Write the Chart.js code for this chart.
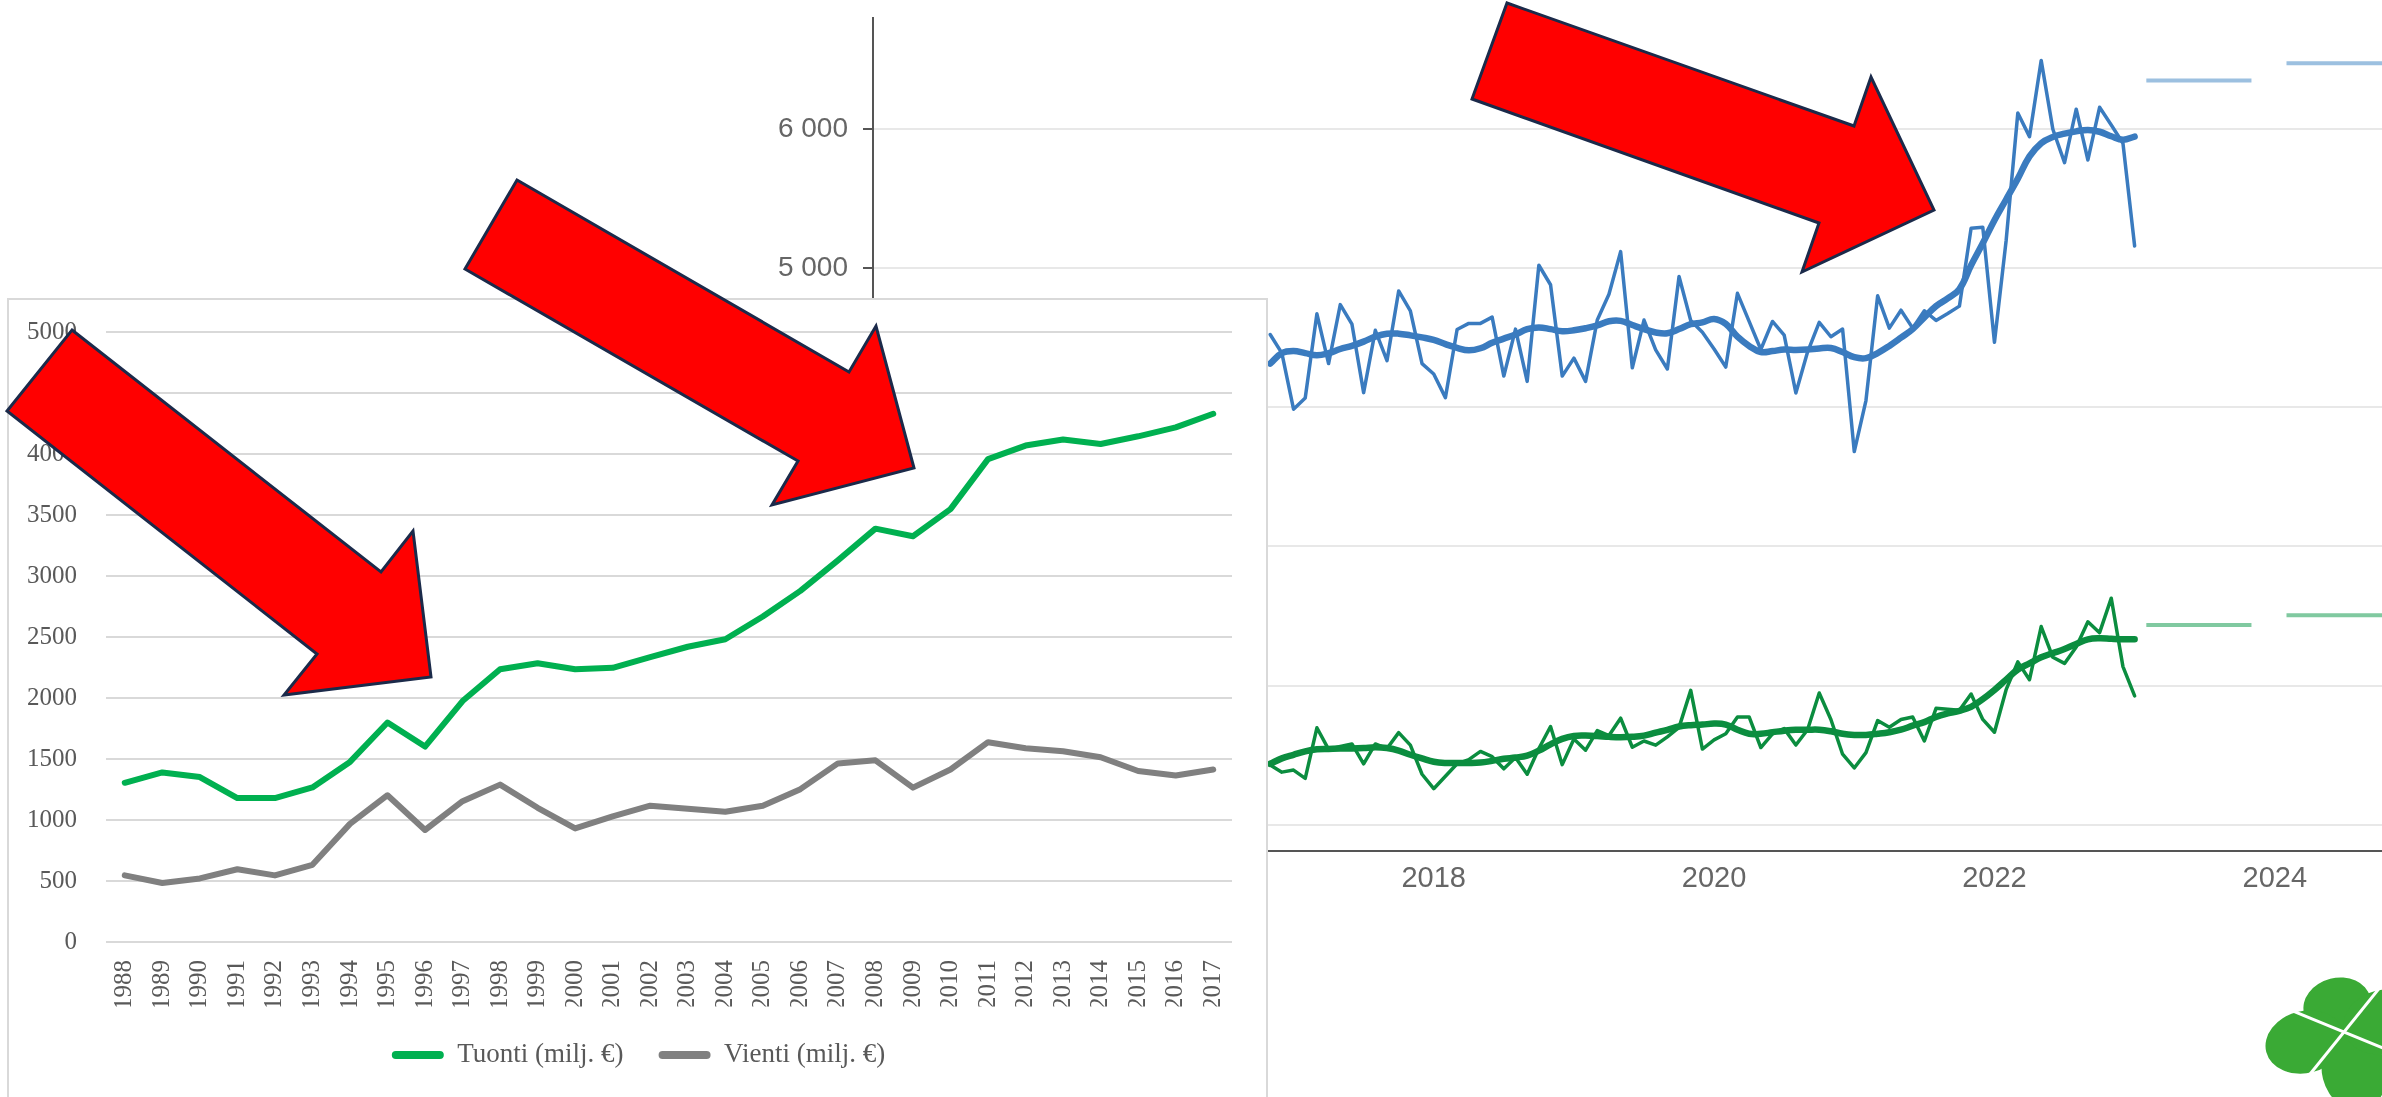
<!DOCTYPE html>
<html>
<head>
<meta charset="UTF-8">
<title>Tuonti ja vienti</title>
<script src="https://cdn.jsdelivr.net/npm/chart.js"></script>
<style>
  html, body { margin: 0; padding: 0; background: #fff; }
  body { position: relative; width: 2382px; height: 1097px; overflow: hidden; }
  #bgChart { position: absolute; left: 0; top: 0; }
  #box { position: absolute; left: 7px; top: 298px; width: 1257px; height: 830px;
         border: 2px solid #d9d9d9; background: #fff; }
  #fgChart { position: absolute; left: 0; top: 0; }
  svg.overlay { position: absolute; left: 0; top: 0; }
</style>
</head>
<body>
<canvas id="bgChart" width="2430" height="1097"></canvas>
<div id="box"><canvas id="fgChart" width="1257" height="797"></canvas></div>

<svg class="overlay" width="2382" height="1097">
  <g fill="#ff0000" stroke="#1b2a4a" stroke-width="3" stroke-linejoin="miter">
    <polygon points="72,330 381,572 413,531 431,677 284,695 317,654 7,411"/>
    <polygon points="517,180 849,372 876,326 914,468 772,505 798,461 465,269"/>
    <polygon points="1507,3 1854,126 1871,77 1934,210 1802,272 1819,223 1472,99"/>
  </g>
  <g fill="#3aaa35">
    <ellipse cx="2337" cy="1005" rx="27" ry="34" transform="rotate(255.6 2337 1005)"/>
    <ellipse cx="2305" cy="1042" rx="40" ry="31" transform="rotate(165.6 2305 1042)"/>
    <ellipse cx="2354" cy="1071" rx="40" ry="32" transform="rotate(75.6 2354 1071)"/>
    <ellipse cx="2383" cy="1022" rx="40" ry="32" transform="rotate(-14.4 2383 1022)"/>
  </g>
  <g stroke="#fff" stroke-width="3">
    <line x1="2261" y1="998" x2="2427" y2="1066"/>
    <line x1="2394" y1="970" x2="2294" y2="1094"/>
  </g>
</svg>

<script>
  // vasen kaavio: tuonti ja vienti, milj. €
  const years = ['1988', '1989', '1990', '1991', '1992', '1993', '1994', '1995', '1996', '1997',
    '1998', '1999', '2000', '2001', '2002', '2003', '2004', '2005', '2006', '2007',
    '2008', '2009', '2010', '2011', '2012', '2013', '2014', '2015', '2016', '2017'];
  const tuonti = [1305, 1390, 1352, 1180, 1180, 1267, 1476, 1799, 1602, 1975,
    2235, 2285, 2235, 2247, 2335, 2420, 2482, 2668, 2878, 3128,
    3388, 3326, 3548, 3958, 4069, 4119, 4082, 4145, 4218, 4330];
  const vienti = [546, 484, 521, 596, 546, 633, 968, 1203, 918, 1154,
    1290, 1100, 931, 1030, 1117, 1092, 1067, 1117, 1253, 1464,
    1489, 1265, 1414, 1638, 1588, 1563, 1514, 1402, 1365, 1414];

  // oikea kaavio: kuukausiarvot marraskuusta 2016 tammikuuhun 2023
  const startYear = 2016;
  const startMonth = 11;
  const blueMonthly = [4524, 4390,
    3987, 4067, 4673, 4315, 4739, 4598, 4106, 4554, 4336, 4837, 4694, 4315,
    4240, 4070, 4560, 4604, 4604, 4649, 4225, 4563, 4187, 5022, 4882, 4225,
    4354, 4187, 4628, 4813, 5120, 4285, 4628, 4413, 4276, 4941, 4625, 4540,
    4420, 4290, 4820, 4618, 4416, 4618, 4519, 4104, 4398, 4611, 4508, 4563,
    3682, 4049, 4802, 4570, 4699, 4570, 4695, 4625, 4675, 4728, 5288, 5296,
    4468, 5200, 6117, 5947, 6495, 6000, 5760, 6144, 5779, 6158, 6031, 5899,
    5160];
  const blueTrend = [4315, 4390,
    4405, 4390, 4375, 4390, 4420, 4443, 4473, 4509, 4530, 4530, 4518, 4503,
    4485, 4455, 4428, 4410, 4425, 4464, 4494, 4524, 4563, 4575, 4563, 4548,
    4554, 4569, 4589, 4619, 4622, 4592, 4563, 4539, 4533, 4563, 4598, 4611,
    4636, 4600, 4508, 4442, 4398, 4405, 4416, 4413, 4416, 4424, 4427, 4398,
    4361, 4354, 4391, 4442, 4501, 4563, 4647, 4728, 4783, 4850, 5022, 5180,
    5346, 5495, 5645, 5805, 5900, 5945, 5968, 5985, 5995, 5982, 5950, 5925,
    5947];
  const greenMonthly = [1428, 1377,
    1392, 1332, 1696, 1541, 1562, 1580, 1437, 1580, 1547, 1661, 1571, 1362,
    1258, 1347, 1437, 1467, 1526, 1488, 1401, 1482, 1362, 1547, 1705, 1431,
    1616, 1535, 1676, 1640, 1765, 1556, 1601, 1571, 1631, 1699, 1965, 1543,
    1609, 1653, 1774, 1774, 1554, 1653, 1690, 1572, 1682, 1946, 1756, 1506,
    1407, 1517, 1748, 1700, 1756, 1774, 1601, 1836, 1829, 1822, 1939, 1756,
    1664, 1970, 2170, 2042, 2424, 2203, 2159, 2277, 2458, 2380, 2628, 2136,
    1925];
  const greenTrend = [1437, 1476,
    1502, 1526, 1541, 1544, 1547, 1547, 1550, 1556, 1550, 1532, 1502, 1476,
    1452, 1443, 1443, 1443, 1446, 1458, 1473, 1482, 1496, 1532, 1577, 1616,
    1637, 1640, 1637, 1631, 1628, 1631, 1640, 1661, 1681, 1705, 1715, 1719,
    1726, 1719, 1682, 1653, 1653, 1664, 1675, 1682, 1682, 1682, 1671, 1653,
    1645, 1645, 1653, 1664, 1682, 1711, 1737, 1774, 1799, 1818, 1847, 1902,
    1968, 2042, 2115, 2159, 2203, 2233, 2262, 2299, 2332, 2340, 2336, 2333,
    2333];
  const forecastYears = [2023, 2024];
  const blueForecast = [6350, 6475];
  const greenForecast = [2435, 2505];
  const rightXTicks = [2014, 2016, 2018, 2020, 2022, 2024];
  const rightYTicks = [1000, 2000, 3000, 4000, 5000, 6000];

  const monthX = blueMonthly.map((_, i) => startYear + (startMonth - 1 + i) / 12);
  const toPoints = vals => vals.map((v, i) => ({x: monthX[i], y: v}));
  const toForecast = vals => forecastYears.flatMap((yr, i) => [
    {x: yr + 1 / 12, y: vals[i]}, {x: yr + 10 / 12, y: vals[i]}, {x: yr + 11 / 12, y: null}
  ]);

  const sans = "'Liberation Sans', Arial, sans-serif";
  const serif = "'Liberation Serif', 'Times New Roman', serif";

  // ei reunatäytettä akseleiden ääripäiden tekstien takia
  const noEdgePadding = s => { s.paddingTop = 0; s.paddingBottom = 0; s.paddingLeft = 0; s.paddingRight = 0; };

  new Chart(document.getElementById('bgChart'), {
    type: 'line',
    data: {
      datasets: [
        {data: toPoints(blueTrend), borderColor: '#3a7bbf', borderWidth: 6.5, tension: 0.4},
        {data: toPoints(greenTrend), borderColor: '#0b8d3f', borderWidth: 6.5, tension: 0.4},
        {data: toPoints(blueMonthly), borderColor: '#3a7bbf', borderWidth: 3.5},
        {data: toPoints(greenMonthly), borderColor: '#0b8d3f', borderWidth: 3.5},
        {data: toForecast(blueForecast), borderColor: '#9cc0e0', borderWidth: 4, borderCapStyle: 'butt', spanGaps: false},
        {data: toForecast(greenForecast), borderColor: '#80c9a0', borderWidth: 4, borderCapStyle: 'butt', spanGaps: false}
      ]
    },
    options: {
      responsive: false,
      animation: false,
      layout: {padding: {top: 18, right: 15, left: 0, bottom: 0}},
      elements: {point: {radius: 0}, line: {borderJoinStyle: 'round', borderCapStyle: 'round'}},
      plugins: {legend: {display: false}, tooltip: {enabled: false}},
      scales: {
        x: {
          type: 'linear', min: 2014, max: 2025,
          afterBuildTicks: s => { s.ticks = rightXTicks.map(v => ({value: v})); },
          afterFit: s => { s.height = 246; noEdgePadding(s); },
          grid: {display: false, drawTicks: false},
          border: {color: '#555', width: 2},
          ticks: {padding: 11, color: '#666', font: {family: sans, size: 29}, callback: v => String(v)}
        },
        y: {
          min: 810, max: 6800,
          afterBuildTicks: s => { s.ticks = rightYTicks.map(v => ({value: v})); },
          afterFit: s => { s.width = 873; noEdgePadding(s); },
          grid: {color: '#e8e8e8', lineWidth: 2, tickLength: 10, tickColor: '#555', tickWidth: 2},
          border: {color: '#555', width: 2},
          ticks: {padding: 15, color: '#666', font: {family: sans, size: 28},
            callback: v => String(v).replace(/\B(?=(\d{3})+(?!\d))/g, ' ')}
        }
      }
    }
  });

  new Chart(document.getElementById('fgChart'), {
    type: 'line',
    data: {
      labels: years,
      datasets: [
        {label: 'Tuonti (milj. €)', data: tuonti, borderColor: '#00b050', backgroundColor: '#00b050', borderWidth: 6},
        {label: 'Vienti (milj. €)', data: vienti, borderColor: '#808080', backgroundColor: '#808080', borderWidth: 6}
      ]
    },
    options: {
      responsive: false,
      animation: false,
      layout: {padding: {top: 32, right: 34, left: 0, bottom: 18.5}},
      elements: {point: {radius: 0}, line: {tension: 0, borderJoinStyle: 'round', borderCapStyle: 'round'}},
      plugins: {
        tooltip: {enabled: false},
        legend: {
          position: 'bottom',
          labels: {
            boxWidth: 52, boxHeight: 8, padding: 35, color: '#595959',
            font: {family: serif, size: 27},
            useBorderRadius: true, borderRadius: 4,
            generateLabels: chart => Chart.defaults.plugins.legend.labels.generateLabels(chart)
              .map(item => Object.assign(item, {fillStyle: item.strokeStyle, lineWidth: 0}))
          }
        }
      },
      scales: {
        x: {
          offset: true,
          afterFit: s => { s.height = 64.5; noEdgePadding(s); },
          grid: {display: false, drawTicks: false},
          border: {display: false},
          ticks: {minRotation: 90, maxRotation: 90, padding: 18, color: '#595959', font: {family: serif, size: 25}}
        },
        y: {
          min: 0, max: 5000,
          afterFit: s => { s.width = 97; noEdgePadding(s); },
          grid: {color: '#d9d9d9', lineWidth: 2, drawTicks: false},
          border: {display: false},
          ticks: {stepSize: 500, padding: 29, color: '#595959', font: {family: serif, size: 25}, callback: v => String(v)}
        }
      }
    },
    plugins: [{
      // selite hieman oikealle, kuten alkuperäisessä
      id: 'legendShift',
      afterLayout: chart => { chart.legend.left += 18; chart.legend.right += 18; }
    }]
  });
</script>
</body>
</html>
